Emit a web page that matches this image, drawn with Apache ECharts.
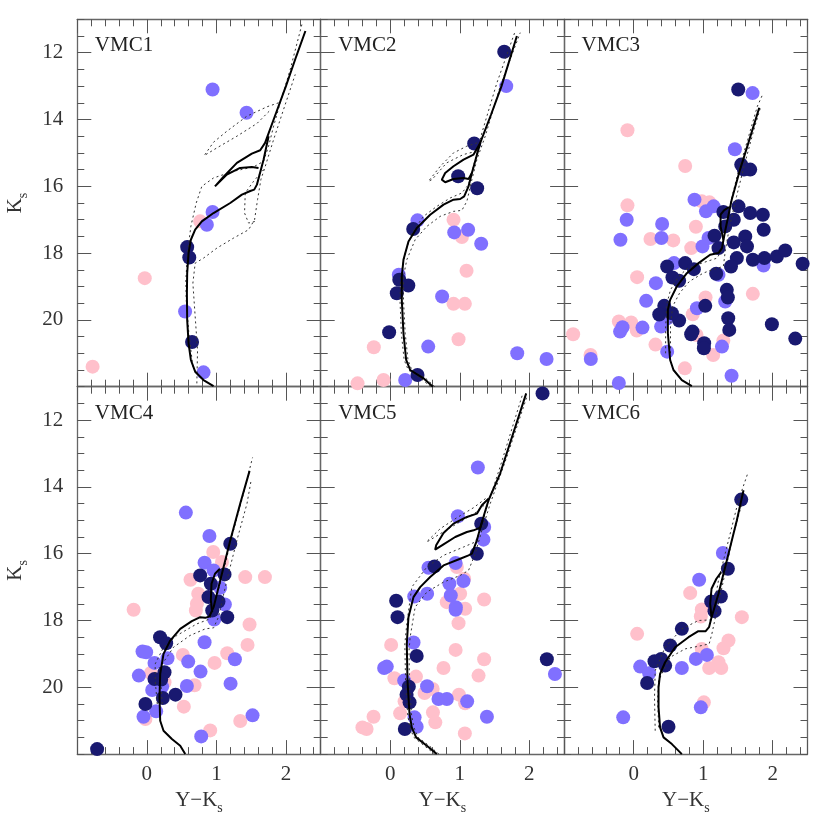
<!DOCTYPE html>
<html>
<head>
    <meta charset="UTF-8">
    <title>VMC CMDs</title>
    <script type="text/javascript" src="https://cdn.jsdelivr.net/npm/echarts@6/dist/echarts.min.js"></script>
    <style type="text/css">
        body { margin: 0; background: #fff; }
        #chart { width: 830px; height: 830px; }
    </style>
</head>
<body>
<div id="chart"></div>
<script type="text/javascript">
// axis ranges and tick labels
var xMin = -1, xMax = 2.5, yMin = 11, yMax = 22;
var xTickLabels = [0, 1, 2];
var yTickLabels = [12, 14, 16, 18, 20];
var panelNames = ['VMC1', 'VMC2', 'VMC3', 'VMC4', 'VMC5', 'VMC6'];

// stars: [Y-Ks, Ks]
var vmc1Pink = [[0.767,17.05],[-0.03,18.75],[-0.78,21.40]];
var vmc1Blue = [[0.945,13.10],[1.434,13.80],[0.945,16.77],[0.863,17.15],[0.55,19.75],[0.815,21.57]];
var vmc1Navy = [[0.58,17.82],[0.61,18.13],[0.65,20.66]];

var vmc2Pink = [[0.91,17.0],[1.03,17.52],[1.097,18.53],[0.91,19.52],[1.073,19.52],[0.982,20.58],[-0.236,20.82],[-0.47,21.90],[-0.097,21.80]];
var vmc2Blue = [[1.668,13.0],[0.392,17.02],[0.92,17.38],[1.12,17.30],[1.308,17.72],[0.123,18.65],[0.746,19.30],[0.546,20.80],[1.826,21.0],[2.248,21.17],[0.215,21.80]];
var vmc2Navy = [[1.639,11.97],[1.207,14.72],[0.977,15.70],[1.250,16.06],[0.330,17.28],[0.13,18.80],[0.26,18.97],[0.094,19.20],[-0.016,20.37],[0.392,21.65]];

var vmc3Pink = [[-0.089,14.32],[0.741,15.39],[-0.089,16.57],[0.98,16.45],[1.09,16.48],[0.895,17.21],[0.242,17.58],[0.57,17.62],[0.828,17.85],[0.05,18.72],[1.714,19.22],[1.034,19.33],[0.85,19.83],[-0.213,20.05],[-0.036,20.08],[0.045,20.32],[0.904,20.45],[-0.87,20.43],[1.29,20.62],[0.314,20.74],[1.144,21.05],[-0.62,21.05],[0.736,21.45]];
var vmc3Blue = [[1.71,13.21],[1.456,14.89],[0.875,16.40],[1.04,16.75],[1.15,16.6],[-0.10,17.0],[0.41,17.13],[-0.19,17.6],[0.40,17.55],[0.99,17.8],[1.077,17.55],[1.868,18.37],[0.58,18.3],[0.32,18.9],[1.22,18.65],[1.317,19.45],[0.18,19.43],[0.91,19.65],[0.477,19.96],[-0.16,20.22],[-0.195,20.35],[0.127,20.23],[0.395,20.2],[1.27,20.8],[0.482,20.95],[-0.616,21.17],[1.408,21.67],[-0.213,21.89]];
var vmc3Navy = [[1.504,13.10],[1.547,15.35],[1.676,15.5],[1.585,15.5],[1.29,16.77],[1.508,16.6],[1.44,17.0],[1.676,16.8],[1.858,16.85],[1.87,17.3],[1.163,17.48],[1.317,17.2],[1.44,17.68],[1.605,17.5],[1.63,17.8],[1.22,17.85],[1.484,18.15],[1.714,18.2],[1.88,18.15],[2.06,18.1],[2.18,17.92],[2.43,18.32],[1.40,18.4],[0.741,18.3],[0.482,18.4],[0.866,18.48],[0.558,18.73],[0.654,18.83],[1.187,18.62],[1.34,19.1],[1.355,19.33],[0.44,19.58],[0.368,19.84],[1.03,19.58],[0.654,20.02],[0.55,19.80],[1.36,19.95],[1.375,20.3],[0.847,20.35],[0.827,20.43],[1.988,20.13],[2.324,20.56],[1.014,20.70],[1.01,20.85]];

var vmc4Pink = [[0.955,15.95],[1.08,16.25],[0.628,16.78],[1.415,16.7],[1.698,16.7],[0.739,17.2],[0.72,17.5],[0.705,17.7],[-0.19,17.68],[1.477,18.12],[1.448,18.73],[0.518,19.03],[0.974,19.27],[1.156,18.98],[0.058,19.57],[0.254,19.85],[0.686,19.94],[0.532,20.58],[-0.02,20.95],[1.343,21.01],[0.911,21.29]];
var vmc4Blue = [[0.561,14.77],[0.90,15.47],[0.83,16.27],[0.96,16.5],[1.055,17.02],[1.122,17.52],[0.969,17.97],[0.83,18.65],[-0.062,18.93],[-0.01,18.95],[0.11,19.27],[0.297,19.13],[0.595,19.23],[1.266,19.16],[-0.115,19.65],[0.772,19.53],[0.22,19.98],[0.077,20.08],[0.576,19.96],[1.204,19.89],[0.134,20.72],[-0.048,20.88],[1.52,20.84],[0.782,21.47]];
var vmc4Navy = [[1.20,15.70],[0.767,16.65],[1.117,16.62],[0.92,16.9],[0.887,17.3],[1.03,17.43],[0.94,17.7],[1.156,17.9],[0.19,18.5],[0.278,18.68],[0.254,19.55],[0.11,19.75],[0.206,19.77],[0.23,20.32],[0.412,20.22],[-0.02,20.5],[-0.715,21.85]];

var vmc5Pink = [[0.958,16.4],[1.063,16.75],[1.005,17.2],[0.813,17.45],[1.077,17.65],[1.35,17.37],[0.982,18.08],[0.013,18.73],[0.94,18.88],[1.35,19.16],[0.766,19.42],[1.27,19.65],[0.37,19.68],[0.06,19.73],[0.61,20.05],[0.494,20.17],[0.988,20.22],[1.077,20.48],[0.206,20.42],[0.142,20.78],[0.614,20.75],[0.648,21.05],[-0.24,20.88],[-0.40,21.2],[-0.34,21.25],[1.073,21.38]];
var vmc5Blue = [[1.26,13.42],[0.972,14.88],[1.351,15.2],[1.34,15.58],[0.94,16.28],[0.55,16.42],[1.053,16.82],[0.851,16.9],[0.871,17.25],[0.53,17.2],[0.345,17.28],[0.943,17.6],[0.94,17.68],[0.335,18.66],[-0.088,19.42],[-0.05,19.38],[2.368,19.6],[0.20,19.8],[0.53,19.97],[0.694,20.35],[0.814,20.35],[1.106,20.42],[0.35,20.9],[1.39,20.88],[0.38,21.18]];
var vmc5Navy = [[2.19,11.2],[1.308,15.1],[1.245,16.0],[0.636,16.38],[0.085,17.41],[0.105,17.9],[0.38,19.06],[2.252,19.16],[0.267,19.98],[0.235,20.22],[0.278,20.45],[0.21,21.25]];

var vmc6Pink = [[0.813,17.18],[0.98,17.67],[0.966,17.88],[1.556,17.9],[0.05,18.4],[1.364,18.6],[1.292,18.83],[0.98,18.85],[1.086,19.42],[1.22,19.25],[1.26,19.42],[1.01,20.45]];
var vmc6Blue = [[1.283,15.98],[0.942,16.78],[0.895,19.15],[1.053,19.03],[0.094,19.38],[0.223,19.58],[0.693,19.42],[0.966,20.6],[-0.15,20.9]];
var vmc6Navy = [[1.547,14.38],[1.355,16.45],[1.254,17.28],[1.115,17.43],[1.163,17.72],[0.693,18.25],[0.525,18.75],[0.30,19.22],[0.396,19.15],[0.453,19.35],[0.194,19.87],[0.501,21.18]];

// isochrones, each a list of segments: best fit (solid) and bounds (dotted)
var vmc1Iso = [
    [[0.959,21.98],[0.815,21.80],[0.695,21.55],[0.633,21.20],[0.600,20.70],[0.580,20.00],[0.576,19.20],[0.580,18.60],[0.600,18.00],[0.633,17.60],[0.695,17.30],[0.791,17.05],[0.959,16.80],[1.199,16.50],[1.367,16.25],[1.487,16.14],[1.544,16.10],[1.583,15.95],[1.679,15.20],[1.751,14.50]],
    [[1.606,15.45],[1.51,15.42],[1.34,15.45],[1.15,15.65],[0.98,16.0],[1.10,15.72],[1.295,15.30],[1.51,15.02],[1.63,14.92],[1.70,14.70],[1.85,13.85],[2.0,13.0],[2.15,12.1],[2.28,11.35]]
];
var vmc1IsoDot = [
    [[0.662,21.40],[0.604,20.40],[0.566,19.40],[0.561,18.80],[0.585,18.00],[0.633,17.20],[0.710,16.50],[0.791,16.00],[0.959,15.75],[1.247,15.55],[1.535,15.42],[1.679,15.25],[1.751,14.80],[1.823,14.20],[1.918,13.50],[2.062,12.50],[2.230,11.15]],
    [[1.894,13.50],[1.727,13.62],[1.439,13.90],[1.151,14.35],[0.959,14.68],[0.825,15.08],[1.007,14.85],[1.295,14.50],[1.583,14.12],[1.784,13.70]],
    [[0.719,21.90],[0.729,20.90],[0.695,19.90],[0.662,18.90],[0.695,18.30],[0.815,18.15],[1.007,17.85],[1.247,17.55],[1.463,17.30],[1.549,17.00],[1.592,16.40],[1.640,15.80],[1.703,15.40],[1.823,14.60],[1.966,13.70],[2.134,12.65]],
    [[1.679,15.50],[1.535,15.85],[1.415,16.20],[1.405,16.80],[1.463,17.10],[1.559,17.05]]
];

var vmc2Iso = [
    [[0.613,22.0],[0.478,21.75],[0.287,21.5],[0.229,21.2],[0.19,20.4],[0.166,19.4],[0.166,18.7],[0.19,18.2],[0.262,17.65],[0.382,17.25],[0.574,16.85],[0.766,16.55],[0.91,16.40],[1.006,16.38],[1.063,16.3],[1.126,16.0],[1.174,15.6],[1.294,14.70],[1.45,13.85],[1.6,13.0],[1.821,11.5]],
    [[1.294,14.70],[1.198,15.05],[1.054,15.2],[0.91,15.4],[0.79,15.6],[0.742,15.8],[0.79,15.88],[0.91,15.78],[1.054,15.75],[1.126,15.78],[1.174,15.6]]
];
var vmc2IsoDot = [
    [[0.58,22.0],[0.44,21.75],[0.26,21.5],[0.20,21.2],[0.16,20.4],[0.14,19.4],[0.15,18.7],[0.214,18.0],[0.31,17.4],[0.478,16.9],[0.67,16.6],[0.862,16.35],[1.03,16.2],[1.126,15.95],[1.222,15.2],[1.318,14.4],[1.534,12.9],[1.798,11.35]],
    [[1.25,14.7],[1.10,14.8],[0.91,15.0],[0.72,15.4],[0.55,15.85],[0.60,15.8],[0.81,15.3],[1.05,15.05],[1.24,14.95]],
    [[0.64,22.0],[0.51,21.75],[0.31,21.5],[0.255,21.2],[0.215,20.4],[0.19,19.4],[0.19,18.7],[0.238,18.2],[0.358,17.6],[0.526,17.2],[0.718,16.9],[0.91,16.75],[1.03,16.72],[1.102,16.45],[1.174,15.8],[1.246,15.2],[1.366,14.5],[1.582,13.0],[1.869,11.4]]
];

var vmc3Iso = [
    [[0.837,21.98],[0.693,21.8],[0.573,21.5],[0.525,21.2],[0.492,20.4],[0.492,19.7],[0.525,19.4],[0.62,19.0],[0.765,18.6],[0.933,18.3],[1.10,18.05],[1.22,18.0],[1.27,17.85],[1.31,17.4],[1.41,16.4],[1.53,15.5],[1.65,14.7],[1.806,13.65]],
    [[1.29,17.6],[1.25,17.2],[1.25,16.85],[1.30,16.72],[1.37,16.62]]
];
var vmc3IsoDot = [
    [[0.46,21.0],[0.46,20.2],[0.48,19.5],[0.53,19.1],[0.645,18.7],[0.78,18.45],[0.98,18.3],[1.2,18.15],[1.27,17.9],[1.30,17.4],[1.38,16.6],[1.50,15.6],[1.64,14.6],[1.78,13.6],[1.855,13.25]],
    [[0.53,21.0],[0.53,20.2],[0.56,19.6],[0.66,19.2],[0.80,18.85],[1.0,18.6],[1.125,18.5],[1.29,18.4],[1.32,17.9],[1.38,17.2],[1.48,16.3],[1.60,15.3],[1.73,14.3],[1.83,13.6]]
];

var vmc4Iso = [
    [[0.552,22.0],[0.48,21.75],[0.36,21.55],[0.24,21.3],[0.192,21.0],[0.182,20.3],[0.192,19.6],[0.24,19.0],[0.336,18.6],[0.48,18.25],[0.647,18.02],[0.767,17.9],[0.84,17.92],[0.9,17.88],[0.96,17.6],[1.055,16.8],[1.20,15.6],[1.343,14.5],[1.477,13.52]],
    [[0.94,17.75],[0.92,17.4],[0.93,16.9],[0.98,16.6],[1.05,16.45]]
];
var vmc4IsoDot = [
    [[0.15,20.5],[0.12,19.8],[0.12,19.3],[0.24,18.8],[0.43,18.45],[0.72,18.1],[0.91,17.95],[0.96,17.6],[1.08,16.7],[1.247,15.3],[1.39,14.2],[1.52,13.12]],
    [[0.22,20.5],[0.20,19.8],[0.19,19.4],[0.384,18.8],[0.62,18.45],[0.84,18.25],[0.96,18.22],[1.03,17.9],[1.15,16.8],[1.295,15.6],[1.44,14.5],[1.5,13.8]]
];

var vmc5Iso = [
    [[0.67,22.0],[0.526,21.75],[0.372,21.5],[0.31,21.2],[0.277,20.8],[0.248,19.8],[0.238,18.7],[0.262,17.9],[0.334,17.3],[0.43,17.0],[0.574,16.7],[0.766,16.35],[1.006,16.15],[1.126,16.05],[1.174,16.0],[1.246,15.6],[1.318,15.05],[1.413,14.4],[1.58,13.6],[1.955,11.2]],
    [[1.413,14.35],[1.318,14.55],[1.246,14.80],[1.102,14.90],[0.91,15.10],[0.766,15.38],[0.66,15.75],[0.646,15.88],[0.766,15.72],[0.934,15.50],[1.102,15.35],[1.198,15.30],[1.294,15.22],[1.33,15.0]]
];
var vmc5IsoDot = [
    [[0.64,22.0],[0.49,21.75],[0.34,21.5],[0.28,21.2],[0.25,20.8],[0.22,19.8],[0.21,18.7],[0.238,18.1],[0.31,17.0],[0.526,16.4],[0.766,16.05],[1.054,15.8],[1.222,15.65],[1.294,15.3],[1.39,14.6],[1.58,13.4],[1.907,11.2]],
    [[1.37,14.35],[1.20,14.62],[0.96,14.92],[0.72,15.25],[0.52,15.65],[0.55,15.62],[0.76,15.35],[1.00,15.05],[1.22,14.78],[1.35,14.55]],
    [[0.70,22.0],[0.56,21.75],[0.40,21.5],[0.34,21.2],[0.305,20.8],[0.275,19.8],[0.27,18.9],[0.286,18.5],[0.358,17.6],[0.526,17.15],[0.766,16.85],[1.006,16.65],[1.126,16.5],[1.222,16.0],[1.318,15.3],[1.438,14.5],[1.677,13.1],[1.965,11.3]]
];

var vmc6Iso = [
    [[0.693,22.0],[0.55,21.7],[0.43,21.5],[0.38,21.2],[0.358,20.6],[0.358,20.0],[0.38,19.6],[0.453,19.25],[0.597,18.8],[0.789,18.5],[0.93,18.32],[1.036,18.32],[1.084,18.2],[1.115,17.95],[1.22,17.2],[1.364,16.0],[1.484,15.0],[1.58,14.1]],
    [[1.12,17.9],[1.10,17.5],[1.12,17.05],[1.19,16.75],[1.26,16.55]]
];
var vmc6IsoDot = [
    [[0.31,21.3],[0.30,20.3],[0.31,19.5],[0.453,18.8],[0.693,18.25],[0.933,18.0],[1.125,17.98],[1.15,17.6],[1.22,16.8],[1.364,15.6],[1.508,14.4],[1.643,13.58]],
    [[0.36,21.2],[0.345,20.4],[0.358,19.8],[0.525,19.1],[0.741,18.85],[0.98,18.75],[1.086,18.7],[1.125,18.4],[1.197,17.7],[1.292,16.8],[1.412,15.6],[1.556,14.5]]
];

var pinkSets = [vmc1Pink, vmc2Pink, vmc3Pink, vmc4Pink, vmc5Pink, vmc6Pink];
var blueSets = [vmc1Blue, vmc2Blue, vmc3Blue, vmc4Blue, vmc5Blue, vmc6Blue];
var navySets = [vmc1Navy, vmc2Navy, vmc3Navy, vmc4Navy, vmc5Navy, vmc6Navy];
var isoSets = [vmc1Iso, vmc2Iso, vmc3Iso, vmc4Iso, vmc5Iso, vmc6Iso];
var isoDotSets = [vmc1IsoDot, vmc2IsoDot, vmc3IsoDot, vmc4IsoDot, vmc5IsoDot, vmc6IsoDot];

var FONT = 'Liberation Serif';
var frameColor = '#666';
var tickColor = '#555';
var panelW = 243.4, panelH = 367.4;
var panelLeft = [77.3, 320.7, 564.1];
var panelTop = [19.3, 386.7];

var grids = [], xAxes = [], yAxes = [], titles = [], series = [];
var subRich = {
    k: { fontFamily: FONT, fontSize: 21, color: '#333', lineHeight: 22, verticalAlign: 'top' },
    s: { fontFamily: FONT, fontSize: 14, color: '#333', lineHeight: 14, padding: [11, 0, 0, 0], verticalAlign: 'top' }
};

for (var i = 0; i < 6; i++) {
    var col = i % 3, row = Math.floor(i / 3);
    grids.push({ left: panelLeft[col], top: panelTop[row], width: panelW, height: panelH });
    titles.push({
        text: panelNames[i], left: panelLeft[col] + 17.5, top: panelTop[row] + 16, padding: 0,
        textStyle: { fontFamily: FONT, fontSize: 21, fontWeight: 'normal', color: '#222' }
    });

    ['bottom', 'top'].forEach(function (pos) {
        var showLab = (pos === 'bottom' && row === 1);
        xAxes.push({
            gridIndex: i, type: 'value', position: pos, min: xMin, max: xMax, interval: 1,
            axisLine: { show: true, onZero: false, lineStyle: { color: frameColor, width: 1.3 } },
            axisTick: { show: true, inside: true, length: 14, lineStyle: { color: tickColor, width: 1 } },
            minorTick: { show: true, splitNumber: 5, length: 7, lineStyle: { color: tickColor, width: 1 } },
            splitLine: { show: false },
            axisLabel: {
                show: showLab, margin: 10, fontFamily: FONT, fontSize: 21, color: '#333',
                formatter: function (v) { return xTickLabels.indexOf(v) >= 0 ? String(v) : ''; }
            },
            name: showLab ? '{k|Y\u2212K}{s|s}' : '',
            nameLocation: 'middle', nameGap: 36,
            nameTextStyle: { rich: subRich }
        });
    });

    ['left', 'right'].forEach(function (pos) {
        var showLab = (pos === 'left' && col === 0);
        // minor ticks every 0.5 plus the frame line
        yAxes.push({
            gridIndex: i, type: 'value', position: pos, inverse: true, min: yMin, max: yMax, interval: 0.5,
            axisLine: { show: true, onZero: false, lineStyle: { color: frameColor, width: 1.3 } },
            axisTick: { show: true, inside: true, length: 7, lineStyle: { color: tickColor, width: 1 } },
            splitLine: { show: false },
            axisLabel: { show: false }
        });
        // major ticks and labels
        yAxes.push({
            gridIndex: i, type: 'value', position: pos, inverse: true, min: yMin, max: yMax, interval: 0.5,
            axisLine: { show: false, onZero: false },
            axisTick: { show: true, inside: true, length: 14, customValues: yTickLabels, lineStyle: { color: tickColor, width: 1 } },
            splitLine: { show: false },
            axisLabel: { show: showLab, customValues: yTickLabels, margin: 14, fontFamily: FONT, fontSize: 21, color: '#333' },
            name: showLab ? '{k|K}{s|s}' : '',
            nameLocation: 'middle', nameGap: 50, nameRotate: 90,
            nameTextStyle: { rich: subRich }
        });
    });

    var xi = 2 * i, yi = 4 * i;
    series.push({ type: 'scatter', xAxisIndex: xi, yAxisIndex: yi, data: pinkSets[i], symbolSize: 14,
        itemStyle: { color: '#FFC0CB', opacity: 1 }, silent: true });
    series.push({ type: 'scatter', xAxisIndex: xi, yAxisIndex: yi, data: blueSets[i], symbolSize: 14,
        itemStyle: { color: '#8070FF', opacity: 1 }, silent: true });
    series.push({ type: 'scatter', xAxisIndex: xi, yAxisIndex: yi, data: navySets[i], symbolSize: 14,
        itemStyle: { color: '#191970', opacity: 1 }, silent: true });
    isoDotSets[i].forEach(function (seg) {
        series.push({ type: 'line', xAxisIndex: xi, yAxisIndex: yi, data: seg, showSymbol: false, silent: true,
            lineStyle: { color: '#333', width: 1, type: [2, 3] }, z: 5 });
    });
    isoSets[i].forEach(function (seg) {
        series.push({ type: 'line', xAxisIndex: xi, yAxisIndex: yi, data: seg, showSymbol: false, silent: true,
            lineStyle: { color: '#000', width: 2 }, z: 6 });
    });
}

var myChart = echarts.init(document.getElementById('chart'));
myChart.setOption({
    animation: false,
    backgroundColor: '#fff',
    title: titles,
    grid: grids,
    xAxis: xAxes,
    yAxis: yAxes,
    series: series
});
</script>
</body>
</html>
